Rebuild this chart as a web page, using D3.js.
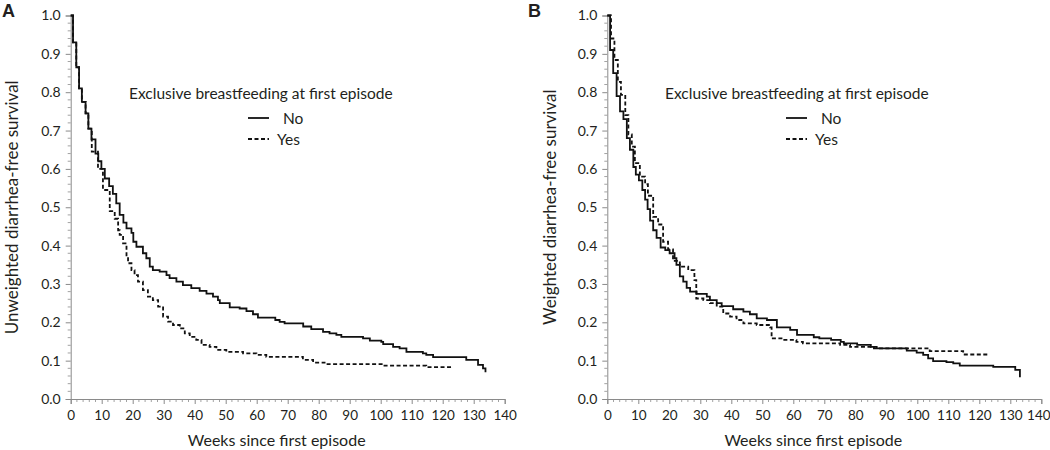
<!DOCTYPE html>
<html>
<head>
<meta charset="utf-8">
<script src="https://cdn.jsdelivr.net/npm/d3@7"></script>
<style>
  html, body { margin: 0; padding: 0; background: #fff; }
  svg text { font-family: Lato, "Open Sans", sans-serif; fill: #231f20; }
</style>
</head>
<body>
<svg id="chart" width="1050" height="450"></svg>
<script>
// ---------- Data ----------
const xTicks = [0, 10, 20, 30, 40, 50, 60, 70, 80, 90, 100, 110, 120, 130, 140];
const yTicks = [0.0, 0.1, 0.2, 0.3, 0.4, 0.5, 0.6, 0.7, 0.8, 0.9, 1.0];
const legendTitle = "Exclusive breastfeeding at first episode";
const seriesNames = ["No", "Yes"];
const panelLabels = ["A", "B"];
const yTitles = ["Unweighted diarrhea-free survival", "Weighted diarrhea-free survival"];
const xTitle = "Weeks since first episode";

// Panel A – unweighted, "No"
const weeksA_No = [0, 0.75, 1.8, 2.7, 3.6, 4.8, 5.7, 6.7, 8.0, 8.9, 9.9, 11.0, 12.4, 13.6, 14.7, 15.8, 17.0, 18.0, 19.6, 20.2, 21.2, 23.3, 24.4, 25.5, 26.5, 28.7, 30.9, 31.9, 34.1, 36.2, 38.9, 41.6, 43.8, 45.9, 47.5, 48.1, 51.3, 54.5, 56.7, 58.8, 60.4, 66.0, 67.4, 69.0, 75.0, 77.6, 81.4, 83.5, 85.7, 87.3, 94.3, 96.5, 100.2, 100.8, 104.0, 106.1, 108.3, 113.6, 114.7, 116.9, 127.6, 131.4, 133.0, 133.8];
const survA_No  = [1.0, 0.93, 0.865, 0.81, 0.775, 0.745, 0.705, 0.677, 0.64, 0.62, 0.60, 0.575, 0.555, 0.535, 0.51, 0.48, 0.46, 0.445, 0.433, 0.41, 0.397, 0.38, 0.367, 0.345, 0.336, 0.332, 0.323, 0.315, 0.306, 0.297, 0.289, 0.282, 0.275, 0.267, 0.258, 0.25, 0.239, 0.236, 0.229, 0.221, 0.212, 0.206, 0.201, 0.197, 0.189, 0.182, 0.175, 0.171, 0.167, 0.162, 0.158, 0.152, 0.149, 0.143, 0.136, 0.132, 0.123, 0.119, 0.115, 0.109, 0.102, 0.089, 0.08, 0.07];

// Panel A – unweighted, "Yes"
const weeksA_Yes = [0, 0.75, 1.8, 2.7, 3.6, 4.8, 5.7, 6.8, 8.8, 10.4, 12.6, 14.2, 15.3, 15.8, 16.9, 18.0, 18.5, 19.6, 20.6, 21.7, 23.3, 24.9, 26.5, 28.2, 29.8, 31.4, 33.0, 35.2, 36.8, 38.4, 40.5, 42.2, 44.8, 47.0, 50.2, 55.6, 59.9, 63.1, 74.9, 78.2, 81.9, 100.8, 114.7, 123.1];
const survA_Yes  = [1.0, 0.93, 0.865, 0.81, 0.775, 0.745, 0.705, 0.645, 0.60, 0.545, 0.49, 0.47, 0.44, 0.428, 0.406, 0.37, 0.354, 0.336, 0.323, 0.306, 0.284, 0.267, 0.258, 0.241, 0.215, 0.202, 0.193, 0.184, 0.171, 0.162, 0.154, 0.141, 0.136, 0.128, 0.123, 0.119, 0.115, 0.11, 0.102, 0.095, 0.091, 0.087, 0.083, 0.083];

// Panel B – weighted, "No"
const weeksB_No = [0, 0.9, 1.9, 3.0, 4.1, 5.2, 6.3, 7.3, 8.4, 9.2, 10.2, 11.3, 12.2, 13.0, 13.8, 14.8, 15.9, 17.2, 18.7, 20.1, 21.7, 22.3, 23.4, 24.5, 25.6, 26.7, 28.8, 32.1, 33.1, 35.3, 36.9, 40.6, 43.9, 46.0, 48.2, 51.5, 54.7, 59.0, 61.2, 66.6, 68.4, 72.2, 75.3, 76.3, 80.6, 85.0, 86.0, 96.6, 99.8, 101.9, 103.5, 105.1, 109.4, 111.6, 113.7, 124.5, 131.6, 133.1];
const survB_No  = [1.0, 0.91, 0.85, 0.79, 0.75, 0.73, 0.68, 0.65, 0.605, 0.585, 0.57, 0.545, 0.52, 0.495, 0.465, 0.44, 0.42, 0.395, 0.388, 0.38, 0.367, 0.35, 0.32, 0.306, 0.29, 0.28, 0.274, 0.267, 0.258, 0.25, 0.242, 0.234, 0.228, 0.221, 0.21, 0.206, 0.187, 0.18, 0.167, 0.161, 0.158, 0.154, 0.149, 0.145, 0.141, 0.136, 0.132, 0.126, 0.121, 0.115, 0.106, 0.099, 0.096, 0.093, 0.087, 0.084, 0.076, 0.057];

// Panel B – weighted, "Yes"
const weeksB_Yes = [0, 1.2, 2.3, 3.4, 4.4, 5.8, 6.8, 7.9, 8.9, 10.5, 12.2, 13.1, 14.8, 16.4, 18.0, 19.6, 21.2, 23.4, 26.1, 28.1, 28.7, 31.0, 33.1, 35.3, 37.4, 39.6, 41.7, 43.9, 48.2, 52.5, 53.0, 56.7, 61.0, 63.1, 75.1, 78.3, 86.9, 104.0, 114.8, 123.2];
const survB_Yes  = [1.0, 0.94, 0.884, 0.827, 0.793, 0.74, 0.69, 0.658, 0.615, 0.58, 0.56, 0.53, 0.475, 0.455, 0.41, 0.39, 0.36, 0.345, 0.336, 0.31, 0.262, 0.258, 0.25, 0.241, 0.223, 0.215, 0.206, 0.197, 0.193, 0.187, 0.158, 0.154, 0.149, 0.145, 0.141, 0.136, 0.132, 0.125, 0.116, 0.116];

// ---------- Drawing ----------
const svg = d3.select("#chart");
const zip = (w, s) => w.map((d, i) => ({ w: d, s: s[i] }));

const panels = [
  { left: 70.7, label: panelLabels[0], labelX: 2, yTitle: yTitles[0], yTitleX: 18,
    no: zip(weeksA_No, survA_No), yes: zip(weeksA_Yes, survA_Yes),
    legX: 129, legLineX: 248, noX: 283, yesX: 277, lastDx: 0 },
  { left: 607.3, label: panelLabels[1], labelX: 528, yTitle: yTitles[1], yTitleX: 556,
    no: zip(weeksB_No, survB_No), yes: zip(weeksB_Yes, survB_Yes),
    legX: 665, legLineX: 786, noX: 821, yesX: 815, lastDx: -3 }
];

const plotW = 434, plotTop = 15.5, plotBottom = 399;
const axisColor = "#8a8a8a";

panels.forEach(p => {
  const x = d3.scaleLinear().domain([0, 140]).range([p.left, p.left + plotW]);
  const y = d3.scaleLinear().domain([0, 1]).range([plotBottom, plotTop]);
  const g = svg.append("g");

  // minor ticks
  const xMinor = d3.range(0, 141, 2).filter(v => v % 10 !== 0);
  g.selectAll(".xminor").data(xMinor).join("line")
    .attr("x1", d => x(d)).attr("x2", d => x(d))
    .attr("y1", plotBottom).attr("y2", plotBottom + 3)
    .attr("stroke", axisColor).attr("stroke-width", 0.8);
  const yMinor = d3.range(0, 1.0001, 0.02).filter(v => Math.abs(v * 10 - Math.round(v * 10)) > 1e-6);
  g.selectAll(".yminor").data(yMinor).join("line")
    .attr("x1", p.left - 3).attr("x2", p.left)
    .attr("y1", d => y(d)).attr("y2", d => y(d))
    .attr("stroke", axisColor).attr("stroke-width", 0.8);

  // x axis
  const xAxis = d3.axisBottom(x).tickValues(xTicks).tickFormat(d3.format("d")).tickSize(5).tickPadding(6);
  const gx = g.append("g").attr("transform", `translate(0,${plotBottom})`).call(xAxis);
  gx.select(".domain").attr("stroke", axisColor);
  gx.selectAll(".tick line").attr("stroke", axisColor);
  gx.selectAll("text").style("font-size", "13.5px").attr("fill", "#231f20")
    .attr("dx", d => d === 140 ? p.lastDx : 0);

  // y axis
  const yAxis = d3.axisLeft(y).tickValues(yTicks).tickFormat(d3.format(".1f")).tickSize(5).tickPadding(5);
  const gy = g.append("g").attr("transform", `translate(${p.left},0)`).call(yAxis);
  gy.select(".domain").attr("stroke", axisColor);
  gy.selectAll(".tick line").attr("stroke", axisColor);
  gy.selectAll("text").style("font-size", "14px").attr("fill", "#231f20");

  // curves
  const line = d3.line().x(d => x(d.w)).y(d => y(d.s)).curve(d3.curveStepAfter);
  g.append("path").datum(p.yes).attr("d", line)
    .attr("fill", "none").attr("stroke", "#111").attr("stroke-width", 1.8)
    .attr("stroke-dasharray", "4,2.5");
  g.append("path").datum(p.no).attr("d", line)
    .attr("fill", "none").attr("stroke", "#111").attr("stroke-width", 1.8);

  // titles
  g.append("text").attr("x", (x(0) + x(140)) / 2 - 11).attr("y", 446)
    .attr("text-anchor", "middle").style("font-size", "16px").text(xTitle);
  g.append("text")
    .attr("transform", `translate(${p.yTitleX},${(plotTop + plotBottom) / 2}) rotate(-90)`)
    .attr("text-anchor", "middle").style("font-size", "17px").text(p.yTitle);
  g.append("text").attr("x", p.labelX).attr("y", 17)
    .style("font-size", "18px").style("font-weight", "bold")
    .style("font-family", "'Liberation Sans', Arial, sans-serif").text(p.label);

  // legend
  g.append("text").attr("x", p.legX).attr("y", 99).style("font-size", "15.5px").text(legendTitle);
  g.append("line").attr("x1", p.legLineX).attr("x2", p.legLineX + 21)
    .attr("y1", 118).attr("y2", 118).attr("stroke", "#111").attr("stroke-width", 1.8);
  g.append("text").attr("x", p.noX).attr("y", 124).style("font-size", "15.5px").text(seriesNames[0]);
  g.append("line").attr("x1", p.legLineX).attr("x2", p.legLineX + 21)
    .attr("y1", 139).attr("y2", 139).attr("stroke", "#111").attr("stroke-width", 1.8)
    .attr("stroke-dasharray", "4,2.5");
  g.append("text").attr("x", p.yesX).attr("y", 145).style("font-size", "15.5px").text(seriesNames[1]);
});
</script>
</body>
</html>
